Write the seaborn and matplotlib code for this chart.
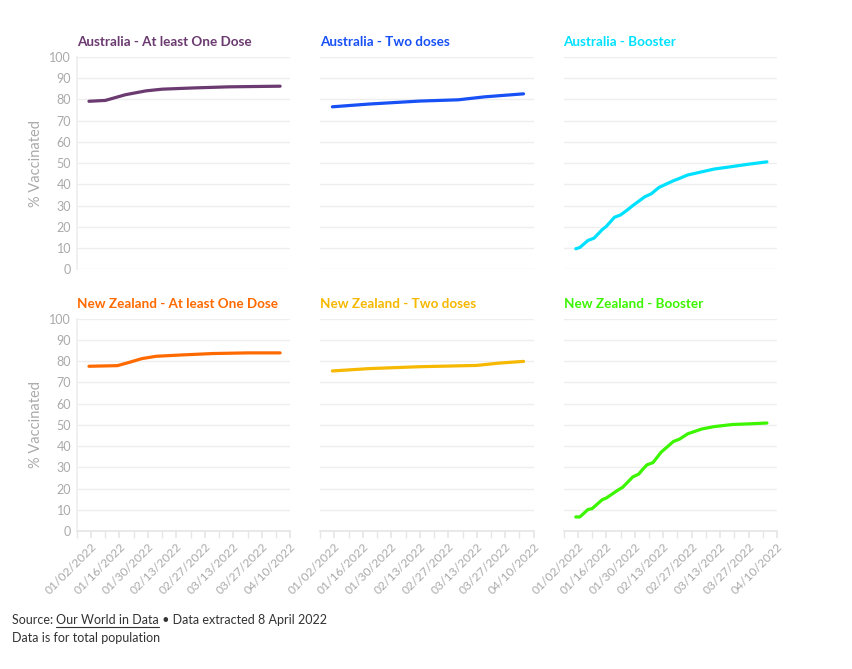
import pandas as pd
import matplotlib.pyplot as plt
import matplotlib.dates as mdates
import seaborn as sns

# %% data

au_one_dates = ["2022-01-01", "2022-01-09", "2022-01-19", "2022-01-29", "2022-02-06",
                "2022-02-22", "2022-03-11", "2022-04-05"]
au_one_vals = [79.1, 79.5, 82.2, 84.0, 84.8, 85.4, 85.9, 86.2]

au_two_dates = ["2022-01-01", "2022-01-19", "2022-02-13", "2022-03-04", "2022-03-17",
                "2022-04-05"]
au_two_vals = [76.5, 77.8, 79.2, 79.8, 81.2, 82.6]

au_boost_dates = ["2022-01-01", "2022-01-03", "2022-01-07", "2022-01-10", "2022-01-14",
                  "2022-01-16", "2022-01-20", "2022-01-23", "2022-01-26", "2022-01-29",
                  "2022-02-04", "2022-02-07", "2022-02-11", "2022-02-18", "2022-02-21",
                  "2022-02-25", "2022-03-04", "2022-03-10", "2022-03-19", "2022-03-27",
                  "2022-04-05"]
au_boost_vals = [9.7, 10.3, 13.6, 14.7, 18.7, 20.2, 24.5, 25.6, 27.7, 30.0,
                 34.2, 35.5, 38.6, 41.7, 42.8, 44.4, 45.9, 47.2, 48.4, 49.5, 50.6]

nz_one_dates = ["2022-01-01", "2022-01-15", "2022-01-21", "2022-01-27", "2022-02-03",
                "2022-02-15", "2022-03-03", "2022-03-20", "2022-04-05"]
nz_one_vals = [77.6, 77.9, 79.5, 81.2, 82.3, 82.9, 83.6, 83.9, 83.9]

nz_two_dates = ["2022-01-01", "2022-01-19", "2022-02-13", "2022-03-13", "2022-03-24",
                "2022-04-05"]
nz_two_vals = [75.4, 76.5, 77.4, 78.0, 79.1, 79.9]

nz_boost_dates = ["2022-01-01", "2022-01-03", "2022-01-07", "2022-01-09", "2022-01-14",
                  "2022-01-16", "2022-01-22", "2022-01-24", "2022-01-29", "2022-02-01",
                  "2022-02-03", "2022-02-05", "2022-02-08", "2022-02-12", "2022-02-18",
                  "2022-02-21", "2022-02-25", "2022-03-04", "2022-03-10", "2022-03-19",
                  "2022-03-27", "2022-04-05"]
nz_boost_vals = [6.7, 6.7, 10.2, 10.6, 14.8, 15.6, 19.5, 20.6, 25.5, 26.9,
                 29.2, 31.2, 32.3, 37.2, 42.2, 43.3, 45.8, 48.1, 49.2, 50.2, 50.5, 50.9]

panels = [
    ("Australia - At least One Dose", au_one_dates, au_one_vals, "#6b3a70"),
    ("Australia - Two doses", au_two_dates, au_two_vals, "#1750f5"),
    ("Australia - Booster", au_boost_dates, au_boost_vals, "#00e1ff"),
    ("New Zealand - At least One Dose", nz_one_dates, nz_one_vals, "#ff6a00"),
    ("New Zealand - Two doses", nz_two_dates, nz_two_vals, "#f6b800"),
    ("New Zealand - Booster", nz_boost_dates, nz_boost_vals, "#3cf500"),
]

# %% plot

sns.set_theme(style="white")
plt.rcParams["font.family"] = ["Lato", "DejaVu Sans"]

grey = "#aaaaaa"
grid = "#eeeeee"

fig, axes = plt.subplots(2, 3, figsize=(8.53, 6.69), dpi=100, sharex=True, sharey=True)
fig.subplots_adjust(left=0.090, right=0.911, top=0.915, bottom=0.206, wspace=0.14, hspace=0.232)

for i, (ax, (title, dates, vals, color)) in enumerate(zip(axes.flat, panels)):
    df = pd.DataFrame({"date": pd.to_datetime(dates), "value": vals})
    sns.lineplot(data=df, x="date", y="value", ax=ax, color=color, linewidth=2.3)

    ax.set_title(title, loc="left", color=color, fontsize=9.7, fontweight="bold", pad=8)
    ax.set_ylim(0, 100)
    ax.set_xlim(pd.Timestamp("2021-12-26"), pd.Timestamp("2022-04-10"))
    ax.set_yticks(range(0, 101, 10))
    ax.yaxis.grid(True, color=grid, linewidth=1)
    ax.set_xlabel("")
    ax.set_ylabel("")
    for s in ax.spines.values():
        s.set_visible(False)

    col = i % 3
    row = i // 3
    if col == 0:
        ax.set_ylabel("% Vaccinated", color=grey, fontsize=10.5, labelpad=5)
        ax.spines["left"].set_visible(True)
        ax.spines["left"].set_color(grid)
        ax.tick_params(axis="y", labelsize=9, labelcolor=grey, length=0, pad=4)
    else:
        ax.tick_params(axis="y", length=0, labelleft=False)

    ax.set_xticks(pd.date_range("2022-01-02", "2022-04-10", freq="14D"))
    ax.set_xticks(pd.date_range("2021-12-26", "2022-04-10", freq="7D"), minor=True)
    ax.xaxis.set_major_formatter(mdates.DateFormatter("%m/%d/%Y"))
    if row == 1:
        ax.spines["bottom"].set_visible(True)
        ax.spines["bottom"].set_color("#e6e6e6")
        ax.tick_params(axis="x", which="both", length=5, color="#e6e6e6", labelsize=8.7,
                       labelcolor=grey, bottom=True, pad=2)
        for lab in ax.get_xticklabels():
            lab.set_rotation(45)
            lab.set_ha("right")
            lab.set_rotation_mode("anchor")
    else:
        ax.tick_params(axis="x", which="both", length=0, labelbottom=False)

# footer with underlined link text
fs = 9
t1 = fig.text(12 / 853, 1 - 624 / 669, "Source: ", fontsize=fs, color="#333333")
fig.canvas.draw()
r = fig.canvas.get_renderer()
bb = t1.get_window_extent(r)
x2 = bb.x1 / fig.bbox.width
t2 = fig.text(x2, 1 - 624 / 669, "Our World in Data", fontsize=fs, color="#333333")
bb2 = t2.get_window_extent(r)
x3 = bb2.x1 / fig.bbox.width
fig.add_artist(plt.Line2D([x2, x3], [1 - 627 / 669, 1 - 627 / 669], color="#333333", linewidth=0.8))
fig.text(x3, 1 - 624 / 669, " \u2022 Data extracted 8 April 2022", fontsize=fs, color="#333333")
fig.text(12 / 853, 1 - 642 / 669, "Data is for total population", fontsize=fs, color="#333333")

plt.savefig("out.png", dpi=100)
